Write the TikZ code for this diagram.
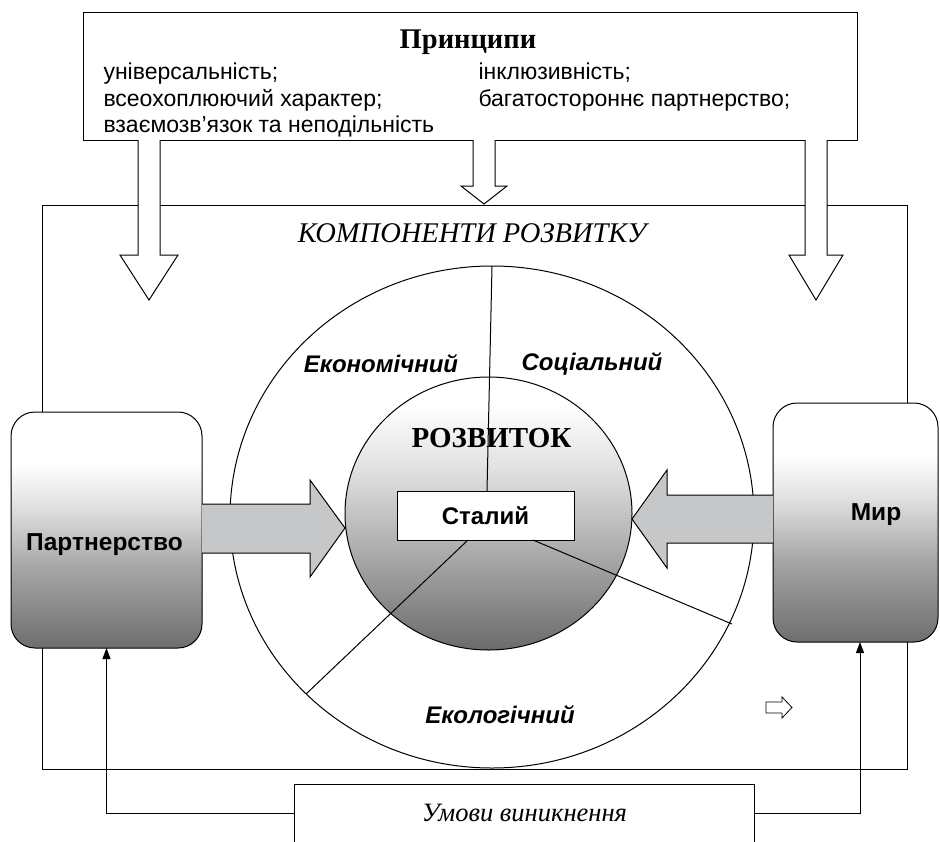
\documentclass[tikz,border=0pt]{standalone}
\usepackage{fontspec}
\setmainfont{Liberation Serif}
\setsansfont{Liberation Sans}
\usetikzlibrary{arrows.meta}
\definecolor{arrowgray}{HTML}{C6C7C9}
\pgfdeclareverticalshading{boxshade}{100bp}{color(0bp)=(black!57); color(25bp)=(black!57); color(42bp)=(black!35); color(55bp)=(black!12); color(64bp)=(white); color(100bp)=(white)}
\pgfdeclareverticalshading{circshade}{100bp}{color(0bp)=(black!58); color(25bp)=(black!58); color(45bp)=(black!30); color(58bp)=(black!12); color(70bp)=(white); color(100bp)=(white)}
\begin{document}
\begin{tikzpicture}[x=1pt,y=-1pt,line width=1pt,
  plainbox/.style={draw, inner sep=0pt, outer sep=0pt},
  item/.style={anchor=base west, inner sep=0pt, font=\sffamily\fontsize{23}{26}\selectfont},
  sector/.style={inner sep=0pt, font=\sffamily\bfseries\itshape\fontsize{24}{28}\selectfont},
  sidebox/.style={draw, rounded corners=24pt, shading=boxshade, inner sep=0pt, outer sep=0pt},
  sidelabel/.style={inner sep=0pt, font=\sffamily\bfseries\fontsize{24.5}{28}\selectfont},
  hollowarrow/.style={draw, fill=white, line join=miter},
  fatarrow/.style={draw, fill=arrowgray, line join=miter},
  feed/.style={line width=0.8pt, -{Triangle[length=11pt,width=8pt]}}
]
\useasboundingbox (0,0) rectangle (940,841);

% outer frame of development components
\node[plainbox, minimum width=865pt, minimum height=564pt, anchor=north west] (frame) at (42,205) {};

% principles box
\node[plainbox, fill=white, minimum width=774pt, minimum height=128pt, anchor=north west] (top) at (83,12) {};
\node[inner sep=0pt, font=\rmfamily\bfseries\fontsize{28.5}{32}\selectfont] (ttl) at (468,42) {Принципи};
\node[item] (p1) at (103,79) {універсальність;};
\node[item] (p2) at (103,106) {всеохоплюючий характер;};
\node[item] (p3) at (103,132) {взаємозв’язок та неподільність};
\node[item] (p4) at (478,79) {інклюзивність;};
\node[item] (p5) at (478,106) {багатостороннє партнерство;};

% hollow arrows from principles
\draw[hollowarrow] (138,140) -- (138,255) -- (120,255) -- (149,300) -- (178,255) -- (160,255) -- (160,140);
\draw[hollowarrow] (473,140) -- (473,186) -- (461,186) -- (484,204) -- (507,186) -- (495,186) -- (495,140);
\draw[hollowarrow] (805,140) -- (805,255) -- (789,255) -- (816,300) -- (843,255) -- (827,255) -- (827,140);

\node[inner sep=0pt, font=\rmfamily\itshape\fontsize{28.5}{32}\selectfont] (comp) at (472,233) {КОМПОНЕНТИ РОЗВИТКУ};

% outer ellipse
\draw (492,517) ellipse [x radius=262, y radius=251];
\coordinate (otop) at (492,266);
\coordinate (oll) at (306,694);
\coordinate (olr) at (732,624);

% inner circle
\shade[shading=circshade, draw] (488.5,513.5) ellipse [x radius=143.5, y radius=136.5];
\node[inner sep=0pt, font=\rmfamily\bfseries\fontsize{29}{32}\selectfont] (rozv) at (491.5,438) {РОЗВИТОК};

% sector labels
\node[sector] (econ) at (381,364) {Економічний};
\node[sector] (soc) at (592,364) {Соціальний};
\node[sector] (eco) at (500,715) {Екологічний};

% central box
\node[plainbox, fill=white, minimum width=177pt, minimum height=49pt, font=\sffamily\bfseries\fontsize{24}{28}\selectfont] (stal) at (485.5,515.5) {Сталий};
\draw (otop) -- ([xshift=1.5pt]stal.north);
\draw ([xshift=-17.5pt]stal.south) -- (oll);
\draw ([xshift=47.5pt]stal.south) -- (olr);

% side boxes
\node[sidebox, minimum width=191pt, minimum height=236pt] (part) at (106.5,530) {};
\node[sidelabel] (partl) at (104.5,545) {Партнерство};
\node[sidebox, minimum width=165pt, minimum height=239pt] (mir) at (855.5,522.5) {};
\node[sidelabel] (mirl) at (876,515) {Мир};

% grey block arrows
\draw[fatarrow] (part.east |- 0,504) -- (310,504) -- (310,480) -- (345,528) -- (310,577) -- (310,553) -- (part.east |- 0,553);
\draw[fatarrow] (mir.west |- 0,495) -- (667,495) -- (667,470) -- (632,519) -- (667,568) -- (667,543) -- (mir.west |- 0,543);

% small hollow arrow
\draw[hollowarrow, line width=0.8pt] (766,702) -- (782,702) -- (782,697) -- (792,707.5) -- (782,718) -- (782,713) -- (766,713) -- cycle;

% conditions box (cut by the page bottom)
\node[inner sep=0pt, minimum width=459pt, minimum height=56pt, font=\rmfamily\itshape\fontsize{26.5}{30}\selectfont] (umovy) at (524.5,813) {Умови виникнення};
\draw (umovy.south west) -- (umovy.north west) -- (umovy.north east) -- (umovy.south east);

% feedback connectors
\draw[feed] (umovy.west) -| (part.south);
\draw[feed] (umovy.east) -| ([xshift=4.5pt]mir.south);
\end{tikzpicture}
\end{document}
